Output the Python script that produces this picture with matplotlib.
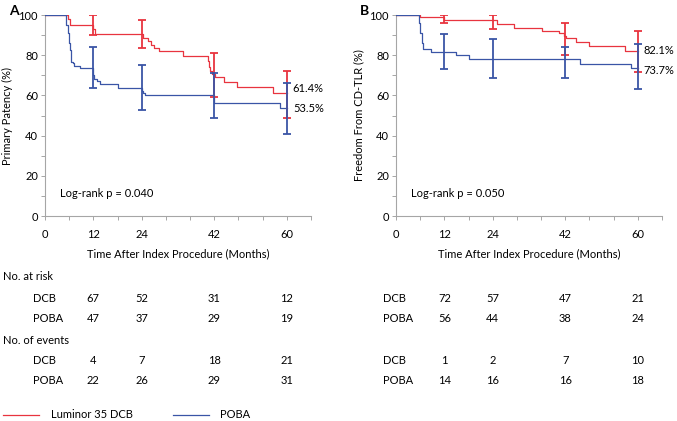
import matplotlib
matplotlib.use("Agg")
import matplotlib.pyplot as plt
from matplotlib.transforms import blended_transform_factory as btf

plt.rcParams['font.family'] = ['Lato', 'DejaVu Sans']

RED = '#e8343f'
BLUE = '#3a55a6'
GRAY = '#a6a6a6'

# Panel A: primary patency
a_red_t = [0, 5.7, 6.2, 12.0, 12.4, 24.0, 24.3, 25.5, 26.3, 27.0, 28.3, 34.3, 40.4, 40.7, 41.0, 41.4, 42.2, 44.3, 47.6, 56.5, 60.0]
a_red_s = [100, 98, 95, 93, 90.5, 90.5, 88.7, 87, 85, 83.5, 82, 79.6, 77, 74, 72, 70.5, 69, 66.5, 64, 61.4, 61.4]
a_blue_t = [0, 5.3, 5.7, 5.9, 6.3, 6.5, 6.9, 7.3, 8.6, 12.0, 12.2, 12.8, 13.6, 18.1, 24.0, 24.3, 24.7, 42.0, 58.2, 60.0]
a_blue_s = [100, 95, 91, 86, 82.6, 76.8, 76, 74.6, 73.5, 70, 68, 67, 65.5, 63.7, 62, 61, 60, 56, 53.5, 53.5]
a_red_err_t = [12, 24, 42, 60]
a_red_lo = [90, 83.4, 59.4, 49]
a_red_hi = [100, 97.5, 81, 72.3]
a_blue_err_t = [12, 24, 42, 60]
a_blue_lo = [63.5, 52.7, 49, 40.8]
a_blue_hi = [84, 75, 71.3, 66.3]

# Panel B: freedom from CD-TLR
b_red_t = [0, 6.0, 12.0, 25.0, 29.3, 36.3, 40.5, 41.6, 42.2, 44.6, 48.0, 56.9, 60.0]
b_red_s = [100, 98.8, 97.4, 95.5, 93.7, 92, 90.9, 89.6, 88.4, 86.5, 84.4, 82.1, 82.1]
b_blue_t = [0, 5.6, 6.0, 6.4, 6.8, 8.6, 15.0, 18.0, 45.7, 58.4, 60.0]
b_blue_s = [100, 95.9, 91, 86, 83.1, 81.6, 80, 78.3, 75.8, 73.7, 73.7]
b_red_err_t = [12, 24, 42, 60]
b_red_lo = [96.2, 93, 80.1, 71.8]
b_red_hi = [100, 100, 95.9, 92.2]
b_blue_err_t = [12, 24, 42, 60]
b_blue_lo = [73, 68.8, 68.8, 63]
b_blue_hi = [90.5, 87.9, 84, 85.4]

x_ticks = [0, 12, 24, 42, 60]
table_times = [12, 24, 42, 60]
a_risk_dcb = [67, 52, 31, 12]
a_risk_poba = [47, 37, 29, 19]
a_ev_dcb = [4, 7, 18, 21]
a_ev_poba = [22, 26, 29, 31]
b_risk_dcb = [72, 57, 47, 21]
b_risk_poba = [56, 44, 38, 24]
b_ev_dcb = [1, 2, 7, 10]
b_ev_poba = [14, 16, 16, 18]

W, H = 677, 421
fig = plt.figure(figsize=(W / 100, H / 100), dpi=100)

def fy(py):
    return 1 - py / H

FS = 8

def panel(left_px, t_red, s_red, t_blue, s_blue, et_r, lo_r, hi_r, et_b, lo_b, hi_b,
          ylabel, letter, logrank, lab_red, lab_blue, lab_red_y, lab_blue_y,
          risk_d, risk_p, ev_d, ev_p, show_heads, rowlab_px):
    ax = fig.add_axes([left_px / W, fy(216), 266 / W, (216 - 15) / H])
    ax.step(t_red, s_red, where='post', color=RED, lw=0.9, zorder=3)
    ax.step(t_blue, s_blue, where='post', color=BLUE, lw=0.9, zorder=3)
    for t, lo, hi in zip(et_r, lo_r, hi_r):
        ax.errorbar([t], [(lo + hi) / 2], yerr=[[(hi - lo) / 2], [(hi - lo) / 2]],
                    fmt='none', ecolor=RED, elinewidth=1.3, capsize=3.2, capthick=1.3, zorder=4)
    for t, lo, hi in zip(et_b, lo_b, hi_b):
        ax.errorbar([t], [(lo + hi) / 2], yerr=[[(hi - lo) / 2], [(hi - lo) / 2]],
                    fmt='none', ecolor=BLUE, elinewidth=1.3, capsize=3.2, capthick=1.3, zorder=4)
    ax.set_xlim(0, 66)
    ax.set_ylim(0, 100)
    for s in ['top', 'right']:
        ax.spines[s].set_visible(False)
    for s in ['left', 'bottom']:
        ax.spines[s].set_color(GRAY)
        ax.spines[s].set_linewidth(0.8)
    ax.set_xticks(list(range(0, 67, 6)))
    ax.set_xticklabels([str(v) if v in x_ticks else '' for v in range(0, 67, 6)])
    ax.set_yticks(list(range(0, 101, 20)))
    ax.set_yticks(list(range(10, 100, 20)), minor=True)
    ax.tick_params(axis='both', which='both', color=GRAY, length=3, width=0.7,
                   labelsize=FS, direction='out')
    ax.tick_params(axis='x', pad=6)
    ax.tick_params(axis='y', pad=2)
    ax.set_ylabel(ylabel, fontsize=FS, labelpad=4)
    ax.set_xlabel('Time After Index Procedure (Months)', fontsize=FS, labelpad=6)
    ax.text(-0.1, 1.02, letter, transform=ax.transAxes, fontsize=10, fontweight='bold',
            ha='right', va='center')
    ax.text(3.8, 11, logrank, fontsize=FS, ha='left', va='center')
    ax.text(61.5, lab_red_y, lab_red, fontsize=FS, ha='left', va='center')
    ax.text(61.5, lab_blue_y, lab_blue, fontsize=FS, ha='left', va='center')

    tr = btf(ax.transData, fig.transFigure)
    rows = [(298, 'DCB', risk_d), (318, 'POBA', risk_p), (361, 'DCB', ev_d), (381, 'POBA', ev_p)]
    for py, lab, vals in rows:
        fig.text(rowlab_px / W, fy(py), lab, fontsize=FS, ha='left', va='center')
        for t, v in zip(table_times, vals):
            fig.text(t, fy(py), str(v), transform=tr, fontsize=FS, ha='center', va='center')
    if show_heads:
        fig.text(3 / W, fy(277), 'No. at risk', fontsize=FS, ha='left', va='center')
        fig.text(3 / W, fy(340), 'No. of events', fontsize=FS, ha='left', va='center')
    return ax

panel(45, a_red_t, a_red_s, a_blue_t, a_blue_s, a_red_err_t, a_red_lo, a_red_hi,
      a_blue_err_t, a_blue_lo, a_blue_hi, 'Primary Patency (%)', 'A', 'Log-rank p = 0.040',
      '61.4%', '53.5%', 63.5, 53.5, a_risk_dcb, a_risk_poba, a_ev_dcb, a_ev_poba, True, 33)
panel(396, b_red_t, b_red_s, b_blue_t, b_blue_s, b_red_err_t, b_red_lo, b_red_hi,
      b_blue_err_t, b_blue_lo, b_blue_hi, 'Freedom From CD-TLR (%)', 'B', 'Log-rank p = 0.050',
      '82.1%', '73.7%', 82.1, 72.5, b_risk_dcb, b_risk_poba, b_ev_dcb, b_ev_poba, False, 383)

# legend
from matplotlib.lines import Line2D
fig.add_artist(Line2D([3 / W, 39 / W], [fy(415), fy(415)], color=RED, lw=0.9))
fig.text(51 / W, fy(414), 'Luminor 35 DCB', fontsize=FS, ha='left', va='center')
fig.add_artist(Line2D([173 / W, 209 / W], [fy(415), fy(415)], color=BLUE, lw=0.9))
fig.text(220 / W, fy(415), 'POBA', fontsize=FS, ha='left', va='center')

fig.savefig('out.png', dpi=100)
